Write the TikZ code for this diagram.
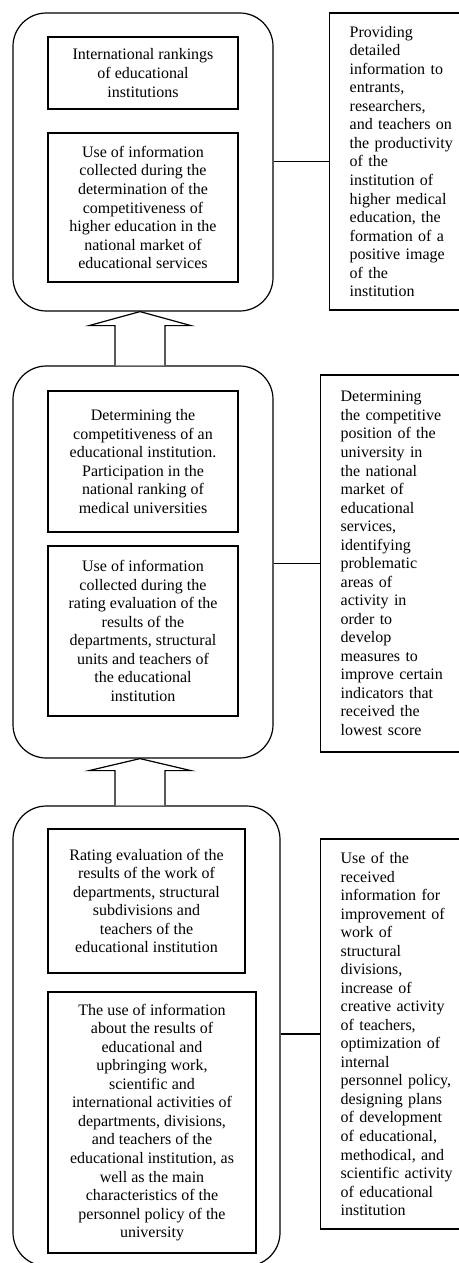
\documentclass[tikz,border=0pt]{standalone}
\usepackage{fontspec}
\setmainfont{Liberation Serif}
\usetikzlibrary{positioning, calc}

\begin{document}
\begin{tikzpicture}[
    x=0.75pt, y=-0.75pt,
    panel/.style={rectangle, draw=black, line width=0.9pt, rounded corners=25pt, inner sep=0pt},
    block/.style={rectangle, draw=black, line width=1pt, align=center, inner sep=2pt, font=\fontsize{12}{13.9}\selectfont},
    note/.style={rectangle, draw=black, line width=1pt, anchor=west, align=left, text width=85pt, inner xsep=15pt, inner ysep=0pt, font=\fontsize{12}{13.9}\selectfont},
    link/.style={draw=black, line width=0.9pt},
    hollow/.style={draw=black, line width=0.9pt, fill=white, line join=miter}
]
\useasboundingbox (0,0) rectangle (458,1263);

% TOP LEVEL
\node[panel, minimum width=195pt, minimum height=223.5pt] (toppanel) at (143,162) {};
\node[block, minimum width=142.5pt, minimum height=54pt] (intrank) at (143,73) {International rankings\\of educational\\institutions};
\node[block, minimum width=142.5pt, minimum height=111.75pt] (usecomp) at (143,207.5) {Use of information\\collected during the\\determination of the\\competitiveness of\\higher education in the\\national market of\\educational services};
\node[note, minimum height=222.75pt] (note1) at (329,161.5) {Providing\\detailed\\information to\\entrants,\\researchers,\\and teachers on\\the productivity\\of the\\institution of\\higher medical\\education, the\\formation of a\\positive image\\of the\\institution};
\draw[link] (note1.west) -- (note1.west -| toppanel.east);

% MIDDLE LEVEL
\node[panel, minimum width=195pt, minimum height=294pt] (midpanel) at (143,562) {};
\node[block, minimum width=142.5pt, minimum height=105.75pt] (natrank) at (143,461.5) {Determining the\\competitiveness of an\\educational institution.\\Participation in the\\national ranking of\\medical universities};
\node[block, minimum width=142.5pt, minimum height=127.5pt] (userating) at (143,631) {Use of information\\collected during the\\rating evaluation of the\\results of the\\departments, structural\\units and teachers of\\the educational\\institution};
\node[note, minimum height=282.75pt] (note2) at (320,563.5) {Determining\\the competitive\\position of the\\university in\\the national\\market of\\educational\\services,\\identifying\\problematic\\areas of\\activity in\\order to\\develop\\measures to\\improve certain\\indicators that\\received the\\lowest score};
\draw[link] (note2.west) -- (note2.west -| midpanel.east);

% BOTTOM LEVEL
\node[panel, minimum width=200.25pt, minimum height=345pt] (botpanel) at (146.5,1036) {};
\node[block, minimum width=147.75pt, minimum height=108pt] (rating) at (146.5,901) {Rating evaluation of the\\results of the work of\\departments, structural\\subdivisions and\\teachers of the\\educational institution};
\node[block, minimum width=156pt, minimum height=195.75pt] (useresults) at (152,1122.5) {The use of information\\about the results of\\educational and\\upbringing work,\\scientific and\\international activities of\\departments, divisions,\\and teachers of the\\educational institution, as\\well as the main\\characteristics of the\\personnel policy of the\\university};
\node[note, minimum height=292.5pt] (note3) at (320,1034) {Use of the\\received\\information for\\improvement of\\work of\\structural\\divisions,\\increase of\\creative activity\\of teachers,\\optimization of\\internal\\personnel policy,\\designing plans\\of development\\of educational,\\methodical, and\\scientific activity\\of educational\\institution};
\draw[link] (note3.west) -- (note3.west -| botpanel.east);

% block arrows between levels
\coordinate (tip1) at ($(toppanel.south)+(-3,0)$);
\coordinate (foot1) at (tip1 |- midpanel.north);
\draw[hollow] ($(foot1)+(-25,0)$) -- ($(tip1)+(-25,14)$) -- ($(tip1)+(-51,14)$) -- (tip1)
    -- ($(tip1)+(51,14)$) -- ($(tip1)+(25,14)$) -- ($(foot1)+(25,0)$);

\coordinate (tip2) at ($(midpanel.south)+(-3,0)$);
\coordinate (foot2) at (tip2 |- botpanel.north);
\draw[hollow] ($(foot2)+(-25,0)$) -- ($(tip2)+(-25,12)$) -- ($(tip2)+(-51,12)$) -- (tip2)
    -- ($(tip2)+(51,12)$) -- ($(tip2)+(25,12)$) -- ($(foot2)+(25,0)$);

\end{tikzpicture}
\end{document}
